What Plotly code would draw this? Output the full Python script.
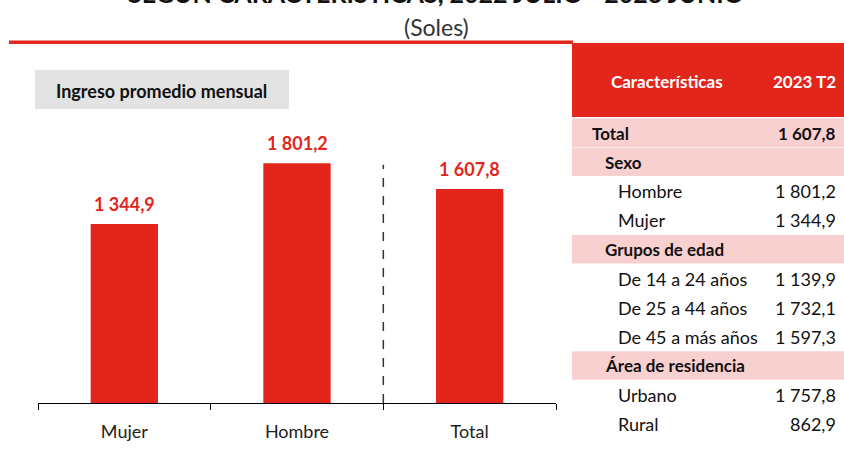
import plotly.graph_objects as go

# ---- data ----
categories = ["Mujer", "Hombre", "Total"]
ingreso = [1344.9, 1801.2, 1607.8]

table_labels = ["Total", "Sexo", "Hombre", "Mujer", "Grupos de edad",
                "De 14 a 24 años", "De 25 a 44 años", "De 45 a más años",
                "Área de residencia", "Urbano", "Rural"]
table_values = ["1 607,8", "", "1 801,2", "1 344,9", "", "1 139,9",
                "1 732,1", "1 597,3", "", "1 757,8", "862,9"]
table_levels = [0, 1, 2, 2, 1, 2, 2, 2, 1, 2, 2]

title_text = "SEGÚN CARACTERÍSTICAS, 2022 JULIO - 2023 JUNIO"
subtitle_text = "(Soles)"
box_text = "Ingreso promedio mensual"
header_left = "Características"
header_right = "2023 T2"

# ---- styling ----
W, H = 844, 457
RED = "#E2261B"
PINK = "#F9D0D0"
FONT = "Lato"


def px(x):
    return x / W


def py(y):
    return 1 - y / H


def note(x, y, text, size, color, xanchor="center", yanchor="middle"):
    return dict(x=px(x), y=py(y), xref="paper", yref="paper", text=text,
                showarrow=False, xanchor=xanchor, yanchor=yanchor,
                font=dict(family=FONT, size=size, color=color))


fig = go.Figure()
fig.add_trace(go.Bar(x=categories, y=ingreso, marker_color=RED,
                     marker_line_width=0, width=0.39, hoverinfo="skip"))

shapes = []
annotations = []

# bar value labels
for c, v in zip(categories, ingreso):
    annotations.append(dict(x=c, y=v, xref="x", yref="y",
                            text="<b>" + f"{v:,.1f}".replace(",", " ").replace(".", ",") + "</b>",
                            showarrow=False, xanchor="center", yanchor="bottom", yshift=7,
                            font=dict(family=FONT, size=18, color=RED)))

# dashed separator between Hombre and Total
shapes.append(dict(type="line", xref="x", yref="y", x0=1.5, x1=1.5,
                   y0=0, y1=1790, line=dict(color="#333333", width=1.5, dash="dash")))

# top red line and header block
shapes.append(dict(type="rect", xref="paper", yref="paper", x0=px(9), x1=px(573),
                   y0=py(44), y1=py(40.5), fillcolor=RED, line_width=0, layer="below"))
shapes.append(dict(type="rect", xref="paper", yref="paper", x0=px(572), x1=px(844),
                   y0=py(117), y1=py(43), fillcolor=RED, line_width=0, layer="below"))

# gray box
shapes.append(dict(type="rect", xref="paper", yref="paper", x0=px(35), x1=px(289),
                   y0=py(109), y1=py(70), fillcolor="#E3E3E3", line_width=0, layer="below"))
annotations.append(note(161, 91, "<b>" + box_text + "</b>", 18, "#111111"))

# title (cut off at top) and subtitle
annotations.append(note(436, -7.5, "<b>" + title_text + "</b>", 25, "#111111"))
annotations.append(note(436, 27, subtitle_text, 23, "#333333"))

# table header
annotations.append(note(667, 82, "<b>" + header_left + "</b>", 17, "white"))
annotations.append(note(838, 82, "<b>" + header_right + "</b>", 17, "white", xanchor="right"))

# table rows
indent = {0: 590, 1: 603, 2: 616}
for i, (lab, val, lev) in enumerate(zip(table_labels, table_values, table_levels)):
    yc = 133 + i * 29.1
    bold = lev < 2
    if bold:
        shapes.append(dict(type="rect", xref="paper", yref="paper", x0=px(572), x1=px(844),
                           y0=py(yc + 14), y1=py(yc - 14.5), fillcolor=PINK,
                           line_width=0, layer="below"))
    annotations.append(note(indent[lev], yc, ("<b>" + lab + "</b>") if bold else lab,
                            17 if bold else 18, "#111111", xanchor="left"))
    if val:
        annotations.append(note(838, yc, ("<b>" + val + "</b>") if lev == 0 else val,
                                17 if lev == 0 else 18, "#111111", xanchor="right"))

fig.update_layout(
    width=W, height=H, margin=dict(l=0, r=0, t=0, b=0),
    paper_bgcolor="white", plot_bgcolor="white", showlegend=False,
    separators=", ",
    shapes=shapes, annotations=annotations,
    font=dict(family=FONT),
    xaxis=dict(domain=[px(38), px(556)], showline=True, linecolor="black", linewidth=1,
               ticks="outside", tickson="boundaries", ticklen=6, tickcolor="black",
               tickfont=dict(family=FONT, size=18, color="#222222"),
               showgrid=False, zeroline=False, ticklabelstandoff=12, fixedrange=True),
    yaxis=dict(domain=[py(403), py(110)], range=[0, 2201], visible=False, fixedrange=True),
)

fig.write_html("out.html", config={"displayModeBar": False},
               post_script="document.body.style.margin='0';document.body.style.overflow='hidden';")
